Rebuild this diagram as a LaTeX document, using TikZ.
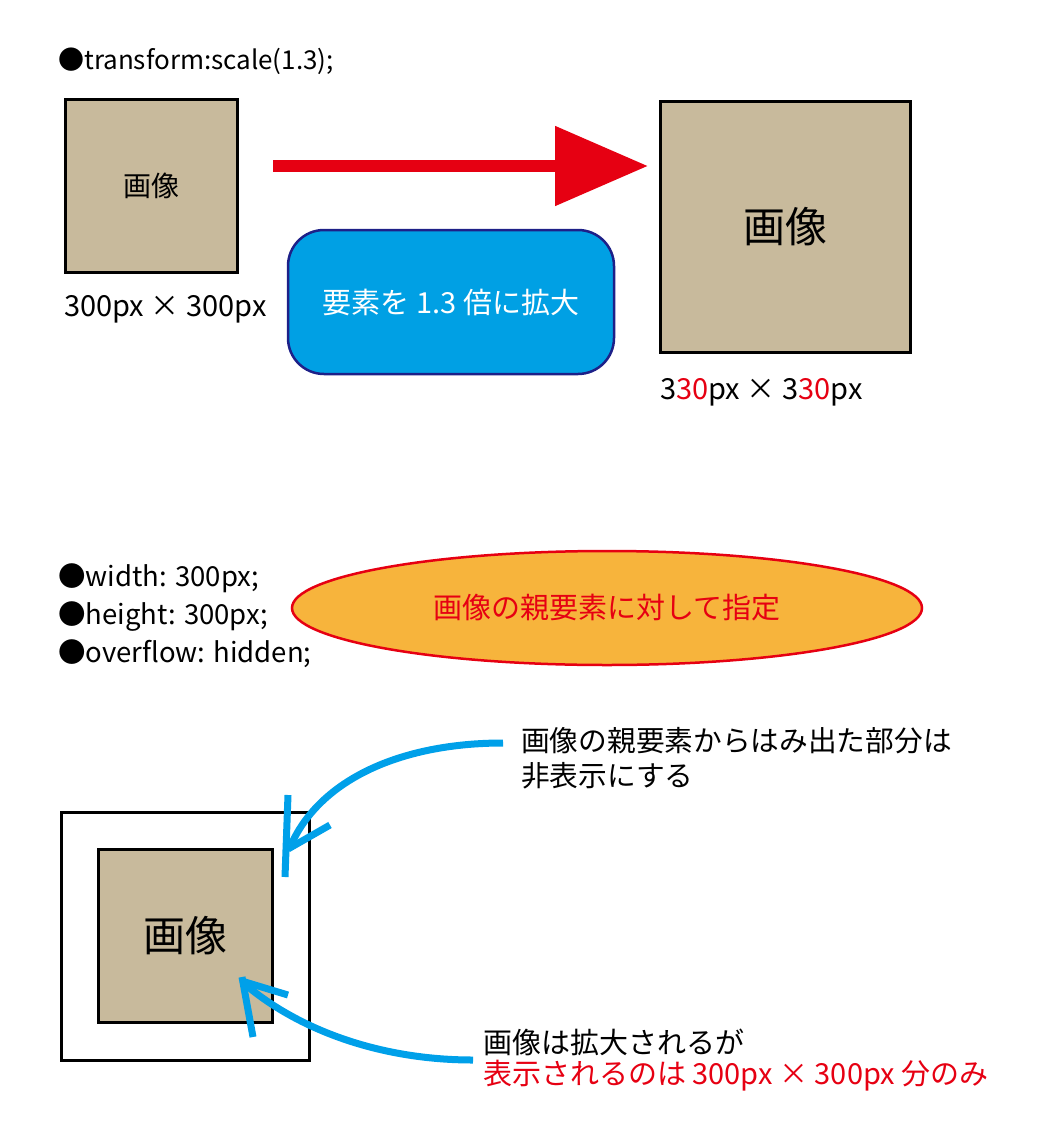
\documentclass[tikz,border=0pt]{standalone}
\usepackage{fontspec}
\setmainfont{Noto Sans CJK JP}
\usetikzlibrary{arrows.meta,shapes.geometric}

\definecolor{imgtan}{HTML}{C8BA9C}
\definecolor{markred}{HTML}{E60012}
\definecolor{boxblue}{HTML}{00A0E4}
\definecolor{boxnavy}{HTML}{1D2088}
\definecolor{ovalorange}{HTML}{F7B43C}
\definecolor{curveblue}{HTML}{00A0E9}

\tikzset{
	imgbox/.style={draw, line width=3pt, fill=imgtan, inner sep=0pt},
	cssline/.style={anchor=base west, inner sep=0pt, font=\fontsize{26}{30}\selectfont},
	sizetext/.style={anchor=base west, inner sep=0pt, font=\fontsize{29}{30}\selectfont},
	notetext/.style={anchor=west, align=left, inner sep=0pt, font=\fontsize{28.7}{35}\selectfont},
	bluecurve/.style={curveblue, line width=7pt}
}

\begin{document}
\begin{tikzpicture}[x=1pt,y=-1pt]
	\useasboundingbox (0,0) rectangle (1044,1134);
	
	% Oben: transform scale
	\node[cssline] (cssscale) at (58,70) {●transform:scale(1.3);};
	
	\node[imgbox, minimum width=172pt, minimum height=172pt, font=\fontsize{28}{30}\selectfont] (smallimg) at (151,186) {画像};
	\node[sizetext] (smallsize) at (64,316) {300px × 300px};
	
	\node[imgbox, minimum width=250pt, minimum height=250pt, font=\fontsize{42}{44}\selectfont] (bigimg) at (785,227) {画像};
	\node[sizetext] (bigsize) at (660,399) {3\textcolor{markred}{30}px × 3\textcolor{markred}{30}px};
	
	% Roter Pfeil
	\coordinate (arrowstart) at (273,166);
	\coordinate (arrowtip) at (648,166);
	\draw[markred, line width=12pt, -{Triangle[length=93pt,width=77pt]}] (arrowstart) -- (arrowtip);
	
	\node[draw=boxnavy, fill=boxblue, line width=2.5pt, rounded corners=36pt, minimum width=326pt, minimum height=144pt, text=white, font=\fontsize{29}{30}\selectfont] (scalenote) at (451,302) {要素を 1.3 倍に拡大};
	
	% Unten: overflow hidden
	\node[cssline, font=\fontsize{27.5}{30}\selectfont] (csswidth) at (58,586) {●width: 300px;};
	\node[cssline, font=\fontsize{27.5}{30}\selectfont] (cssheight) at (58,624) {●height: 300px;};
	\node[cssline, font=\fontsize{27.5}{30}\selectfont] (cssoverflow) at (58,662) {●overflow: hidden;};
	
	\node[ellipse, draw=markred, fill=ovalorange, line width=2.5pt, minimum width=630pt, minimum height=114pt, text=markred, font=\fontsize{29}{30}\selectfont] (parentnote) at (607,608) {画像の親要素に対して指定};
	
	\node[draw, line width=3pt, minimum width=248pt, minimum height=248pt] (parentbox) at (185,936) {};
	\node[imgbox, minimum width=174pt, minimum height=173pt, font=\fontsize{42}{44}\selectfont] (clipimg) at (185,936) {画像};
	
	\node[notetext] (hidenote) at (521,758) {画像の親要素からはみ出た部分は\\非表示にする};
	\node[notetext, font=\fontsize{29}{31}\selectfont] (shownote) at (483,1060) {画像は拡大されるが\\\textcolor{markred}{表示されるのは 300px × 300px 分のみ}};
	
	% Blaue Bogenpfeile
	\coordinate (hidestart) at (503,743);
	\coordinate (hidetip) at (291,845);
	\draw[bluecurve] (hidestart) .. controls (400,743) and (320,780) .. (hidetip);
	\draw[bluecurve] (288,795) -- (285,877);
	\draw[bluecurve] (330,825) -- (288,849);
	
	\coordinate (showstart) at (473,1060);
	\coordinate (showtip) at (247,986);
	\draw[bluecurve] (showstart) .. controls (380,1060) and (300,1030) .. (showtip);
	\draw[bluecurve] (253,1037) -- (242,977);
	\draw[bluecurve] (288,995) -- (245,982);
	
\end{tikzpicture}
\end{document}
